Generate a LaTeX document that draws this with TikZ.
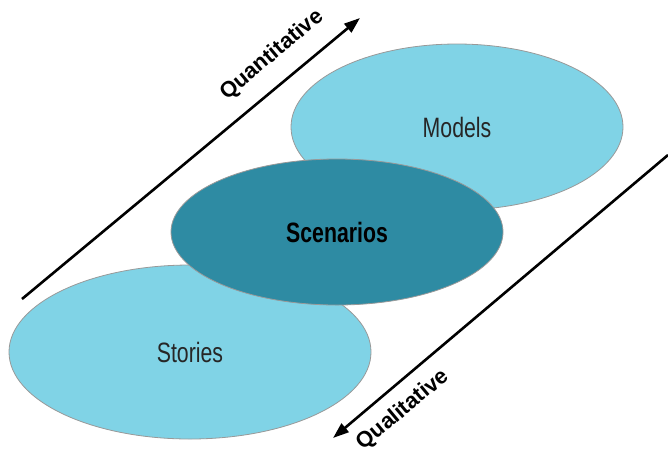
\documentclass[tikz,border=0pt]{standalone}
\usepackage{fontspec}
\setmainfont{Liberation Sans}
\usepackage{tikz}
\usetikzlibrary{shapes.geometric,arrows.meta,positioning}

\definecolor{lightblue}{RGB}{128,211,230}
\definecolor{darkblue}{RGB}{46,139,163}

\begin{document}
\begin{tikzpicture}[x=1pt, y=-1pt,
        blob/.style={ellipse, draw=gray!80, line width=0.8pt, fill=lightblue, inner sep=0pt},
        blobtext/.style={font=\fontsize{28}{30}\selectfont, text=black!85, xscale=0.76},
        trend/.style={-{Triangle[length=16pt, width=11pt]}, line width=2.6pt},
        axislabel/.style={font=\fontsize{22}{24}\selectfont\bfseries, rotate=40, inner sep=1pt}]
        \useasboundingbox (0,0) rectangle (668,456);

        \node[blob, minimum width=332pt, minimum height=166pt] (models) at (457,127) {};
        \node[blob, minimum width=362pt, minimum height=174pt] (stories) at (190,352) {};
        \node[blob, fill=darkblue, minimum width=332pt, minimum height=146pt] (scen) at (337,232) {};

        \node[blobtext] (modelstext) at (models) {Models};
        \node[blobtext] (storiestext) at (stories) {Stories};
        \node[blobtext, font=\fontsize{28}{30}\selectfont\bfseries, text=black] (scentext) at (scen) {Scenarios};

        \coordinate (qnstart) at (22,299);
        \coordinate (qnend) at (360,18);
        \coordinate (qlstart) at (668,155);
        \coordinate (qlend) at (333,438);

        \draw[trend] (qnstart) -- (qnend);
        \draw[trend] (qlstart) -- (qlend);

        \node[axislabel] (quant) at (272,55) {Quantitative};
        \node[axislabel] (qual) at (403,410) {Qualitative};
    \end{tikzpicture}
\end{document}
